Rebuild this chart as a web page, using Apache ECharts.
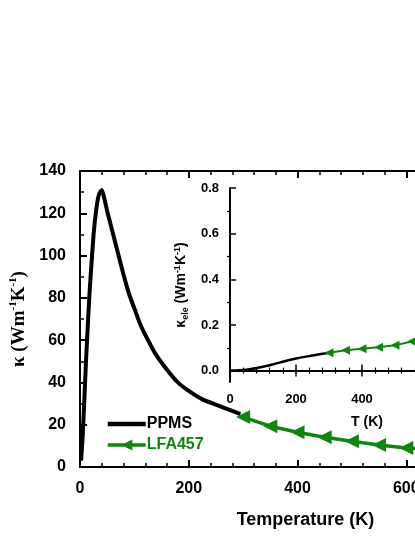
<!DOCTYPE html>
<html>
<head>
<meta charset="utf-8">
<script src="https://cdn.jsdelivr.net/npm/echarts@6/dist/echarts.min.js"></script>
<style>
  html, body { margin: 0; padding: 0; background: #fff; }
  #MainContent { width: 415px; height: 537px; }
</style>
</head>
<body>
<div id="MainContent"></div>
<script>
// main panel: thermal conductivity vs temperature
var ppmsT = [2, 5, 8, 11, 14, 17, 20, 25, 30, 35, 40, 50, 60, 70, 80, 90, 100, 110, 125, 140, 160, 180, 200, 225, 250, 275, 295];
var ppmsK = [3, 15, 32, 50, 65, 80, 92, 110, 122, 129, 131, 121, 111, 101, 91, 82, 75, 68, 60, 53, 46, 40, 36, 32, 29.5, 27, 25];
var lfaT = [300, 350, 400, 450, 500, 550, 600, 650, 700];
var lfaK = [23.6, 19.3, 16.4, 14.1, 12.2, 10.4, 9.0, 8.2, 7.5];

// inset: electronic part
var eleT = [0, 50, 100, 150, 200, 250, 300];
var eleK = [0, 0.004, 0.017, 0.035, 0.053, 0.066, 0.078];
var eleLfaT = [300, 350, 400, 450, 500, 550, 600, 650, 700];
var eleLfaK = [0.078, 0.089, 0.096, 0.102, 0.111, 0.127, 0.15, 0.17, 0.19];

var insetMajor = [0, 0.2, 0.4, 0.6, 0.8];
var insetMinor = [0.1, 0.3, 0.5, 0.7];

var GREEN = '#0e860e';
var FONT = 'Liberation Sans';

function pairs(xs, ys) {
    return xs.map(function (x, i) { return [x, ys[i]]; });
}

function draw() {
    var chart = echarts.init(document.getElementById('MainContent'));

    var lbl = { color: '#000', fontFamily: FONT, fontWeight: 'bold', fontSize: 16 };
    var lblSmall = { color: '#000', fontFamily: FONT, fontWeight: 'bold', fontSize: 13 };
    var line2 = { lineStyle: { color: '#000', width: 2 } };

    var option = {
        animation: false,
        grid: [
            { left: 80, top: 171, width: 435, height: 296, outerBoundsMode: 'none', containLabel: false },
            { left: 230, top: 188, width: 264, height: 194, outerBoundsMode: 'none', containLabel: false,
              show: true, backgroundColor: '#fff', borderWidth: 0 }
        ],
        legend: {
            left: 101, top: 411, orient: 'vertical', itemWidth: 38, itemHeight: 14, itemGap: 5,
            textStyle: { fontFamily: FONT, fontWeight: 'bold', fontSize: 16, padding: [0, 0, 0, -4] },
            data: [
                { name: 'PPMS', icon: 'path://M0,0 L38,0 L38,4.5 L0,4.5 Z', textStyle: { color: '#000' } },
                { name: 'LFA457', lineStyle: { width: 3.5 }, textStyle: { color: GREEN } }
            ]
        },
        xAxis: [
            {
                gridIndex: 0, type: 'value', min: 0, max: 800, interval: 200,
                name: 'Temperature (K)', nameLocation: 'middle', nameGap: 44,
                nameTextStyle: { color: '#000', fontFamily: FONT, fontWeight: 'bold', fontSize: 18, padding: [0, 0, 0, 16] },
                axisLine: line2,
                axisTick: { inside: true, length: 7, lineStyle: { width: 2 } },
                minorTick: { show: true, splitNumber: 5, length: 4, lineStyle: { color: '#000', width: 1.5 } },
                axisLabel: Object.assign({ margin: 14 }, lbl),
                splitLine: { show: false }
            },
            {
                gridIndex: 0, type: 'value', position: 'top', min: 0, max: 800, interval: 200,
                axisLine: line2,
                axisTick: { inside: true, length: 7, lineStyle: { width: 2 } },
                minorTick: { show: true, splitNumber: 5, length: 4, lineStyle: { color: '#000', width: 1.5 } },
                axisLabel: { show: false },
                splitLine: { show: false }
            },
            {
                gridIndex: 1, type: 'value', min: 0, max: 800, interval: 200,
                name: 'T (K)', nameLocation: 'middle', nameGap: 33,
                nameTextStyle: { color: '#000', fontFamily: FONT, fontWeight: 'bold', fontSize: 14, padding: [0, 0, 0, 10] },
                axisLine: line2,
                axisTick: { inside: true, length: 6, lineStyle: { width: 1.5 } },
                minorTick: { show: true, splitNumber: 5, length: 3, lineStyle: { color: '#000', width: 1.2 } },
                axisLabel: Object.assign({ margin: 11 }, lblSmall),
                splitLine: { show: false }
            },
            {
                gridIndex: 1, type: 'value', position: 'top', min: 0, max: 800, interval: 200,
                axisLine: line2,
                axisTick: { inside: true, length: 6, lineStyle: { width: 1.5 } },
                minorTick: { show: true, splitNumber: 5, length: 3, lineStyle: { color: '#000', width: 1.2 } },
                axisLabel: { show: false },
                splitLine: { show: false }
            }
        ],
        yAxis: [
            {
                gridIndex: 0, type: 'value', min: 0, max: 140, interval: 20,
                name: '{s|κ (Wm}{p|-1}{s|K}{p|-1}{s|)}', nameLocation: 'middle', nameGap: 45, nameRotate: 90,
                nameTextStyle: {
                    rich: {
                        s: { color: '#000', fontFamily: 'Liberation Serif', fontWeight: 'bold', fontSize: 19, lineHeight: 22 },
                        p: { color: '#000', fontFamily: 'Liberation Serif', fontWeight: 'bold', fontSize: 11, lineHeight: 22, verticalAlign: 'top' }
                    }
                },
                axisLine: line2,
                axisTick: { inside: true, length: 7, lineStyle: { width: 2 } },
                minorTick: { show: true, splitNumber: 2, length: 4, lineStyle: { color: '#000', width: 1.5 } },
                axisLabel: Object.assign({ margin: 14 }, lbl),
                splitLine: { show: false }
            },
            {
                gridIndex: 1, type: 'value', min: -0.05, max: 0.8,
                name: '{s|κ}{b|ele}{s| (Wm}{p|-1}{s|K}{p|-1}{s|)}', nameLocation: 'middle', nameGap: 39, nameRotate: 90,
                nameTextStyle: {
                    rich: {
                        s: { color: '#000', fontFamily: FONT, fontWeight: 'bold', fontSize: 14, lineHeight: 17 },
                        p: { color: '#000', fontFamily: FONT, fontWeight: 'bold', fontSize: 9, lineHeight: 17, verticalAlign: 'top' },
                        b: { color: '#000', fontFamily: FONT, fontWeight: 'bold', fontSize: 9, lineHeight: 17, verticalAlign: 'bottom' }
                    }
                },
                axisLine: line2,
                axisTick: { inside: true, length: 6, lineStyle: { width: 1.5 }, customValues: insetMajor },
                axisLabel: Object.assign({
                    margin: 11, customValues: insetMajor,
                    formatter: function (v) { return v.toFixed(1); }
                }, lblSmall),
                splitLine: { show: false }
            },
            {
                gridIndex: 1, type: 'value', min: -0.05, max: 0.8,
                axisLine: { show: false },
                axisTick: { inside: true, length: 3, lineStyle: { color: '#000', width: 1.2 }, customValues: insetMinor },
                axisLabel: { show: false },
                splitLine: { show: false }
            }
        ],
        series: [
            {
                name: 'PPMS', type: 'line', xAxisIndex: 0, yAxisIndex: 0,
                data: pairs(ppmsT, ppmsK), symbol: 'none', smooth: 0.15,
                lineStyle: { color: '#000', width: 4 }, itemStyle: { color: '#000' }
            },
            {
                name: 'LFA457', type: 'line', xAxisIndex: 0, yAxisIndex: 0,
                data: pairs(lfaT, lfaK), symbol: 'triangle', symbolRotate: 90, symbolSize: 14,
                lineStyle: { color: GREEN, width: 3.5 }, itemStyle: { color: GREEN }
            },
            {
                name: 'ele PPMS', type: 'line', xAxisIndex: 2, yAxisIndex: 1,
                data: pairs(eleT, eleK), symbol: 'none', smooth: 0.3,
                lineStyle: { color: '#000', width: 2.5 }
            },
            {
                name: 'ele LFA457', type: 'line', xAxisIndex: 2, yAxisIndex: 1,
                data: pairs(eleLfaT, eleLfaK), symbol: 'triangle', symbolRotate: 90, symbolSize: 9,
                lineStyle: { color: GREEN, width: 2 }, itemStyle: { color: GREEN }
            }
        ]
    };

    chart.setOption(option);
    window.onresize = chart.resize;
}

draw();
</script>
</body>
</html>
